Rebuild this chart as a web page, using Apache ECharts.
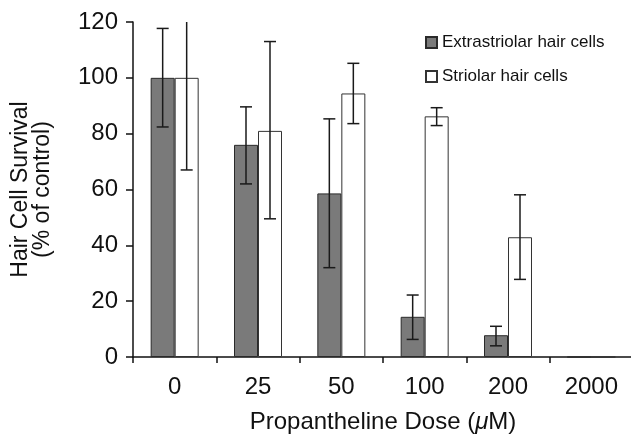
<!DOCTYPE html>
<html>
<head>
<meta charset="utf-8">
<script src="https://cdn.jsdelivr.net/npm/echarts@6/dist/echarts.min.js"></script>
<style>
  html, body { margin: 0; padding: 0; background: #fff; }
  #chart { width: 631px; height: 434px; }
</style>
</head>
<body>
<div id="chart"></div>
<script>
const categories = ['0', '25', '50', '100', '200', '2000'];
const extraNames = 'Extrastriolar hair cells';
const striNames = 'Striolar hair cells';
const extraValues = [100, 76, 58.6, 14.4, 7.8, 0];
const extraLow = [82.4, 62, 32, 6.3, 4, null];
const extraHigh = [117.7, 89.6, 85.3, 22.2, 11, null];
const striValues = [100, 81, 94.4, 86.2, 42.9, 0];
const striLow = [67, 49.5, 83.6, 82.9, 27.8, null];
const striHigh = [133, 113, 105.2, 89.3, 58.1, null];
const yTicks = [0, 20, 40, 60, 80, 100, 120];

const FONT = '"Liberation Sans", Arial, Helvetica, sans-serif';
const BAR_W = 24;
const CAP = 6;

function errData(low, high) {
  const out = [];
  for (let i = 0; i < categories.length; i++) {
    if (low[i] != null && high[i] != null) out.push([i, low[i], high[i]]);
  }
  return out;
}

function makeErrRender(side) {
  return function (params, api) {
    const idx = api.value(0);
    const lo = api.coord([idx, api.value(1)]);
    const hi = api.coord([idx, api.value(2)]);
    const x = lo[0] + side * BAR_W / 2;
    const style = { stroke: '#1a1a1a', lineWidth: 1.5 };
    return {
      type: 'group',
      children: [
        { type: 'line', shape: { x1: x, y1: lo[1], x2: x, y2: hi[1] }, style: style },
        { type: 'line', shape: { x1: x - CAP, y1: lo[1], x2: x + CAP, y2: lo[1] }, style: style },
        { type: 'line', shape: { x1: x - CAP, y1: hi[1], x2: x + CAP, y2: hi[1] }, style: style }
      ]
    };
  };
}

const chart = echarts.init(document.getElementById('chart'), null, { renderer: 'canvas' });
chart.setOption({
  animation: false,
  backgroundColor: '#ffffff',
  textStyle: { fontFamily: FONT },
  grid: { left: 133, top: 22, width: 500, bottom: 77, containLabel: false, outerBoundsMode: 'none' },
  legend: {
    data: [extraNames, striNames],
    orient: 'vertical',
    left: 425,
    top: 34,
    padding: 0,
    itemWidth: 11,
    itemHeight: 11,
    itemGap: 17,
    icon: 'rect',
    textStyle: { fontSize: 17, color: '#111', fontFamily: FONT }
  },
  xAxis: {
    type: 'category',
    data: categories,
    boundaryGap: true,
    name: 'Propantheline Dose ({i|\u03BC}M)',
    nameLocation: 'middle',
    nameGap: 53,
    nameTextStyle: {
      fontSize: 24, color: '#111', fontFamily: FONT,
      rich: { i: { fontSize: 24, fontStyle: 'italic', color: '#111', fontFamily: FONT } }
    },
    axisLine: { show: true, lineStyle: { color: '#111', width: 1.5 } },
    axisTick: { show: true, alignWithLabel: false, length: 6, lineStyle: { color: '#111', width: 1.5 } },
    axisLabel: { fontSize: 24, color: '#111', margin: 18, fontFamily: FONT },
    splitLine: { show: false }
  },
  yAxis: {
    type: 'value',
    min: yTicks[0],
    max: yTicks[yTicks.length - 1],
    interval: yTicks[1] - yTicks[0],
    name: 'Hair Cell Survival\n(% of control)',
    nameLocation: 'middle',
    nameRotate: 90,
    nameGap: 79,
    nameTextStyle: { fontSize: 23, lineHeight: 22, color: '#111', fontFamily: FONT, align: 'center' },
    axisLine: { show: true, lineStyle: { color: '#111', width: 1.5 } },
    axisTick: { show: true, length: 7, lineStyle: { color: '#111', width: 1.5 } },
    axisLabel: { fontSize: 24, color: '#111', margin: 15, fontFamily: FONT },
    splitLine: { show: false }
  },
  series: [
    {
      name: extraNames,
      type: 'bar',
      data: extraValues,
      barWidth: BAR_W,
      barGap: '0%',
      itemStyle: { color: '#7a7a7a', borderColor: '#2a2a2a', borderWidth: 1 }
    },
    {
      name: striNames,
      type: 'bar',
      data: striValues,
      barWidth: BAR_W,
      barGap: '0%',
      itemStyle: { color: '#ffffff', borderColor: '#333333', borderWidth: 1 }
    },
    {
      type: 'custom',
      name: 'extraErr',
      data: errData(extraLow, extraHigh),
      renderItem: makeErrRender(-1),
      clip: true,
      z: 5
    },
    {
      type: 'custom',
      name: 'striErr',
      data: errData(striLow, striHigh),
      renderItem: makeErrRender(1),
      clip: true,
      z: 5
    }
  ]
});
</script>
</body>
</html>
